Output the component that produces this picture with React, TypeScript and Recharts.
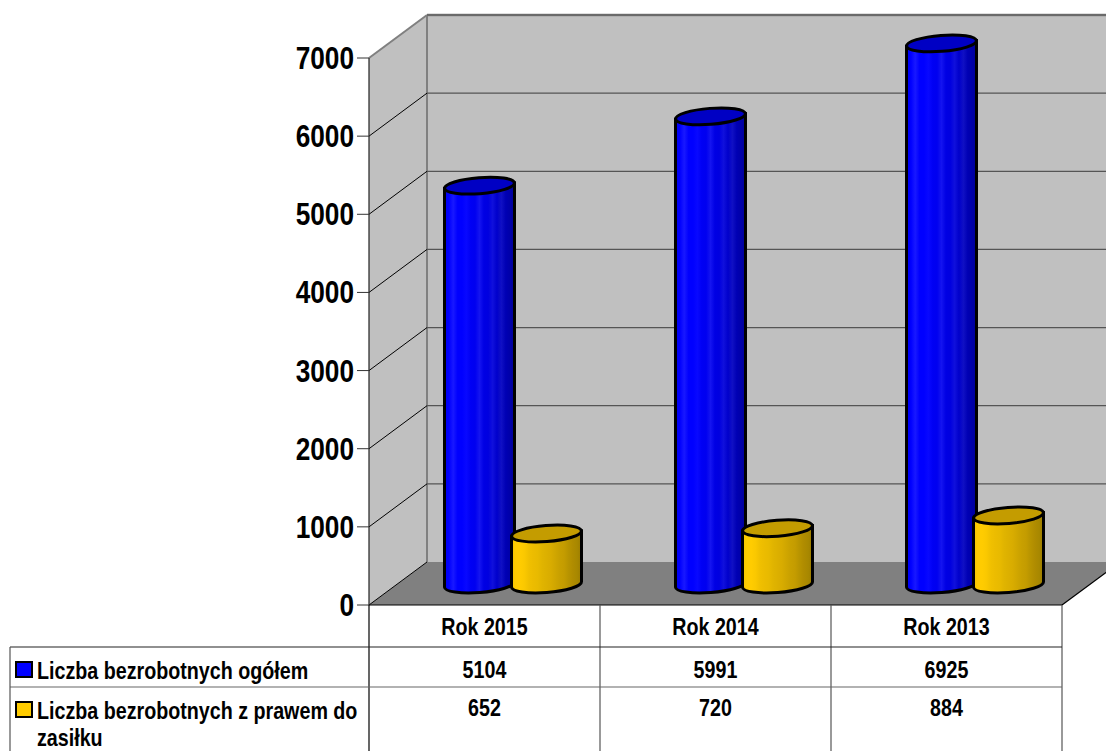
import React from 'react';
import { ComposedChart, Bar, XAxis, YAxis, ReferenceArea, ReferenceLine } from 'recharts';

const categories = ['Rok 2015', 'Rok 2014', 'Rok 2013'];
const totalValues = [5104, 5991, 6925];
const benefitValues = [652, 720, 884];
const yTicks = [0, 1000, 2000, 3000, 4000, 5000, 6000, 7000];
const gridTicks = [1000, 2000, 3000, 4000, 5000, 6000, 7000];
const seriesNames = ['Liczba bezrobotnych ogółem', 'Liczba bezrobotnych z prawem do zasiłku'];

const data = categories.map((name, i) => ({ name, total: totalValues[i], benefit: benefitValues[i] }));

const FONT = '"Liberation Sans", Arial, sans-serif';
const NARROW = 0.82;
const DEPTH_X = 58;
const DEPTH_Y = 43;
const BAR_DX = 28.5;
const BAR_DY = 20.5;

const stops = (c: string[]) =>
  c.map((col, i) => <stop key={i} offset={`${(i / (c.length - 1)) * 100}%`} stopColor={col} />);

const blueStops = ['#0000f0', '#0000ff', '#1818ff', '#0000ff', '#0000ff', '#0808ff', '#0000f4', '#0000f0', '#1414f0', '#0000e4', '#0000e0', '#1010dc', '#0000cc', '#1010c4', '#0000b4', '#0000a8', '#000098'];
const yellowStops = ['#f4c400', '#ffcc00', '#ffcc00', '#fac800', '#f0c000', '#ecbc00', '#e8ba00', '#e0b400', '#dcb000', '#d8ac00', '#d0a600', '#c8a000', '#c49c00', '#b89400', '#b08c00', '#a88800', '#9c7c00'];

const Cylinder = (props: any) => {
  const { x, y, width, height, grad, top } = props;
  const w = width;
  const xl = x + BAR_DX;
  const xr = xl + w;
  const cx = xl + w / 2;
  const ty = y - BAR_DY;
  const by = y + height - BAR_DY;
  const rx = w / 2;
  const ry = 8;
  const tilt = 2.7;
  return (
    <g stroke="#000" strokeWidth={3}>
      <path
        d={`M${xl},${ty + tilt} L${xl},${by + tilt} A${rx},${ry} -4.5 0 0 ${xr},${by - tilt} L${xr},${ty - tilt} Z`}
        fill={`url(#${grad})`}
      />
      <ellipse cx={cx} cy={ty} rx={rx} ry={ry} transform={`rotate(-4.5 ${cx} ${ty})`} fill={top} />
    </g>
  );
};

const Room = (props: any) => {
  const { x, y, width, height } = props;
  const r = x + width;
  const b = y + height;
  return (
    <g>
      <polygon points={`${x},${y} ${x + DEPTH_X},${y - DEPTH_Y} ${r + DEPTH_X},${y - DEPTH_Y} ${r + DEPTH_X},${b - DEPTH_Y} ${x + DEPTH_X},${b - DEPTH_Y} ${x},${b}`} fill="#c0c0c0" />
      <polygon points={`${x},${b} ${r},${b} ${r + DEPTH_X},${b - DEPTH_Y} ${x + DEPTH_X},${b - DEPTH_Y}`} fill="#808080" />
      <line x1={x} y1={y} x2={x + DEPTH_X} y2={y - DEPTH_Y} stroke="#808080" strokeWidth={2} />
      <line x1={x + DEPTH_X} y1={y - DEPTH_Y} x2={r + DEPTH_X} y2={y - DEPTH_Y} stroke="#808080" strokeWidth={2.5} />
      <line x1={x + DEPTH_X} y1={y - DEPTH_Y} x2={x + DEPTH_X} y2={b - DEPTH_Y} stroke="#808080" strokeWidth={2} />
      <line x1={x} y1={b} x2={x + DEPTH_X} y2={b - DEPTH_Y} stroke="#000" strokeWidth={1} />
      <line x1={r} y1={b} x2={r + DEPTH_X} y2={b - DEPTH_Y} stroke="#000" strokeWidth={1.2} />
    </g>
  );
};

const GridShape = (props: any) => {
  const { x1, y1, x2 } = props;
  const isTop = props.isTop;
  return (
    <g>
      {!isTop && <line x1={x1} y1={y1} x2={x1 + DEPTH_X} y2={y1 - DEPTH_Y} stroke="#000" strokeWidth={1} />}
      <line x1={x1 + DEPTH_X} y1={y1 - DEPTH_Y} x2={x2 + DEPTH_X} y2={y1 - DEPTH_Y} stroke="#555" strokeWidth={1.2} />
    </g>
  );
};

const NarrowText = ({ x, y, size, anchor, children }: any) => (
  <text
    transform={`translate(${x} ${y}) scale(${NARROW} 1)`}
    textAnchor={anchor}
    fontFamily={FONT}
    fontWeight={700}
    fontSize={size}
    fill="#000"
  >
    {children}
  </text>
);

const CategoryTick = (props: any) => {
  const { x, index } = props;
  const half = 115.5;
  return (
    <g>
      <line x1={x - half} y1={605} x2={x - half} y2={751} stroke={index === 0 ? '#000' : '#555'} strokeWidth={1.2} />
      {index === categories.length - 1 && <line x1={x + half} y1={605} x2={x + half} y2={751} stroke="#555" strokeWidth={1.2} />}
      <NarrowText x={x} y={635} size={24} anchor="middle">{categories[index]}</NarrowText>
      <NarrowText x={x} y={678} size={24} anchor="middle">{totalValues[index]}</NarrowText>
      <NarrowText x={x} y={716} size={24} anchor="middle">{benefitValues[index]}</NarrowText>
    </g>
  );
};

const YTick = (props: any) => {
  const { x, y, payload } = props;
  return (
    <NarrowText x={x} y={y + 11} size={32} anchor="end">
      {payload.value}
    </NarrowText>
  );
};

export default function App() {
  const textStyle: React.CSSProperties = {
    position: 'absolute',
    left: 37,
    fontFamily: FONT,
    fontWeight: 700,
    fontSize: 24,
    color: '#000',
    transform: `scaleX(${NARROW})`,
    transformOrigin: 'left top',
  };
  const swatch = (top: number, color: string): React.CSSProperties => ({
    position: 'absolute',
    left: 15,
    top,
    width: 14,
    height: 13,
    background: color,
    border: '2px solid #000',
  });
  return (
    <div style={{ position: 'absolute', left: 0, top: 0, width: 1106, height: 751, overflow: 'hidden', background: '#fff' }}>
      <ComposedChart
        width={1106}
        height={751}
        data={data}
        margin={{ top: 58, right: 44, bottom: 0, left: 309 }}
        barSize={70}
        barGap={-3}
        barCategoryGap={0}
        style={{ overflow: 'visible' }}
      >
        <defs>
          <linearGradient id="blueSide" x1="0" y1="0" x2="1" y2="0">{stops(blueStops)}</linearGradient>
          <linearGradient id="yellowSide" x1="0" y1="0" x2="1" y2="0">{stops(yellowStops)}</linearGradient>
        </defs>
        <XAxis dataKey="name" height={146} axisLine={{ stroke: '#000', strokeWidth: 1.2 }} tickLine={false} tick={<CategoryTick />} interval={0} />
        <YAxis
          width={60}
          domain={[0, 7000]}
          ticks={yTicks}
          interval={0}
          tickSize={12}
          tickLine={{ stroke: '#333' }}
          axisLine={{ stroke: '#222', strokeWidth: 1.2 }}
          tick={<YTick />}
          tickMargin={3}
        />
        <ReferenceArea y1={0} y2={7000} shape={<Room />} ifOverflow="visible" zIndex={0} />
        {gridTicks.map((t) => (
          <ReferenceLine key={t} y={t} ifOverflow="visible" zIndex={0} shape={<GridShape isTop={t === 7000} />} />
        ))}
        <Bar dataKey="total" name={seriesNames[0]} isAnimationActive={false} shape={<Cylinder grad="blueSide" top="#0000c4" />} />
        <Bar dataKey="benefit" name={seriesNames[1]} isAnimationActive={false} shape={<Cylinder grad="yellowSide" top="#c49c00" />} />
      </ComposedChart>
      <svg width={1106} height={751} style={{ position: 'absolute', left: 0, top: 0, pointerEvents: 'none' }}>
        <line x1={10} y1={647} x2={1062} y2={647} stroke="#222" strokeWidth={1.2} />
        <line x1={10} y1={687} x2={1062} y2={687} stroke="#666" strokeWidth={1.2} />
        <line x1={10} y1={647} x2={10} y2={751} stroke="#555" strokeWidth={1.2} />
      </svg>
      <div style={swatch(661, '#0000ff')} />
      <div style={{ ...textStyle, top: 658, lineHeight: '25px', whiteSpace: 'nowrap' }}>{seriesNames[0]}</div>
      <div style={swatch(701, '#ffcc00')} />
      <div style={{ ...textStyle, top: 698, lineHeight: '26.5px', width: 400 }}>{seriesNames[1]}</div>
    </div>
  );
}
